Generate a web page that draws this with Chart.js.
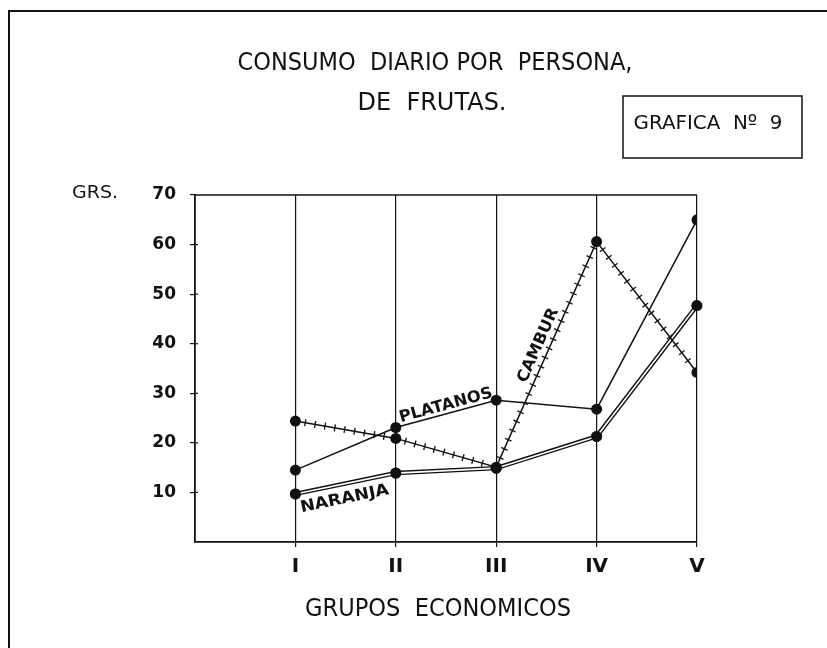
<!DOCTYPE html>
<html>
<head>
<meta charset="utf-8">
<script src="https://cdn.jsdelivr.net/npm/chart.js@4.4.1/dist/chart.umd.min.js"></script>
<style>
  html, body { margin: 0; background: #fff; }
  canvas { display: block; }
</style>
</head>
<body>
<canvas id="chart" width="827" height="648"></canvas>
<script>
// Grupos economicos y consumo diario (grs.) por persona
const grupos = ["I", "II", "III", "IV", "V"];
const platanos = [14.5, 23.1, 28.6, 26.8, 65.0];
const cambur = [24.4, 20.9, 15.1, 60.6, 34.2];
const naranja = [9.7, 13.9, 14.9, 21.3, 47.7];
const yMax = 70;

const INK = "#111";
const FONT = "'DejaVu Sans', sans-serif";

const toPoints = (values) => values.map((v, i) => ({x: i + 1, y: v}));

// draws text centred on (cx, cy), squeezed sideways to the given width
function fitText(ctx, text, cx, cy, font, width, angle) {
  ctx.save();
  ctx.font = font;
  ctx.fillStyle = INK;
  ctx.textAlign = "center";
  ctx.textBaseline = "middle";
  const w = ctx.measureText(text).width;
  ctx.translate(cx, cy);
  if (angle) ctx.rotate(angle);
  ctx.scale(width / w, 1);
  ctx.fillText(text, 0, 0);
  ctx.restore();
}

// label placed along a segment of a series, offset on its upper side
function segmentLabel(ctx, meta, i, t, offset, text, width) {
  const a = meta.data[i], b = meta.data[i + 1];
  const ang = Math.atan2(b.y - a.y, b.x - a.x);
  const nx = Math.sin(ang), ny = -Math.cos(ang);
  const cx = a.x + (b.x - a.x) * t + nx * offset;
  const cy = a.y + (b.y - a.y) * t + ny * offset;
  fitText(ctx, text, cx, cy, "bold 16px " + FONT, width, ang);
}

const lineStyles = {
  id: "lineStyles",
  afterDatasetDraw(chart, args) {
    const ctx = chart.ctx;
    const pts = args.meta.data;
    const label = chart.data.datasets[args.index].label;

    if (label === "CAMBUR") {
      // small cross ticks along the line
      ctx.save();
      ctx.strokeStyle = INK;
      ctx.lineWidth = 1.3;
      for (let i = 0; i < pts.length - 1; i++) {
        const dx = pts[i + 1].x - pts[i].x, dy = pts[i + 1].y - pts[i].y;
        const len = Math.hypot(dx, dy);
        const ux = dx / len, uy = dy / len;
        for (let s = 10; s < len - 6; s += 10) {
          const x = pts[i].x + ux * s, y = pts[i].y + uy * s;
          ctx.beginPath();
          ctx.moveTo(x - uy * 3.5, y + ux * 3.5);
          ctx.lineTo(x + uy * 3.5, y - ux * 3.5);
          ctx.stroke();
        }
      }
      ctx.restore();
    }

    if (label === "NARANJA") {
      // hollow double line, then the dots again on top
      ctx.save();
      ctx.strokeStyle = "#fff";
      ctx.lineWidth = 1.6;
      ctx.lineJoin = "round";
      ctx.beginPath();
      pts.forEach((p, i) => i ? ctx.lineTo(p.x, p.y) : ctx.moveTo(p.x, p.y));
      ctx.stroke();
      ctx.restore();
      pts.forEach((p) => p.draw(ctx, chart.chartArea));
    }
  }
};

const annotations = {
  id: "annotations",
  afterDraw(chart) {
    const ctx = chart.ctx;
    const area = chart.chartArea;
    const ys = chart.scales.y;

    ctx.save();
    ctx.strokeStyle = INK;

    // sheet frame
    ctx.lineWidth = 2;
    ctx.beginPath();
    ctx.moveTo(9, 648);
    ctx.lineTo(9, 11);
    ctx.lineTo(827, 11);
    ctx.stroke();

    // top edge of the plot
    ctx.lineWidth = 1.5;
    ctx.beginPath();
    ctx.moveTo(area.left, area.top);
    ctx.lineTo(area.right, area.top);
    ctx.stroke();

    // little ticks on the value axis reach slightly inside too
    ctx.lineWidth = 1.2;
    ys.ticks.forEach((t) => {
      if (t.value === 0 || t.value === yMax) return;
      const y = ys.getPixelForValue(t.value);
      ctx.beginPath();
      ctx.moveTo(area.left, y);
      ctx.lineTo(area.left + 3, y);
      ctx.stroke();
    });

    // GRAFICA box
    ctx.lineWidth = 1.5;
    ctx.strokeRect(623, 96, 179, 62);
    ctx.restore();

    fitText(ctx, "CONSUMO  DIARIO POR  PERSONA,", 435, 64, "24px " + FONT, 395);
    fitText(ctx, "DE  FRUTAS.", 432, 104, "24px " + FONT, 149);
    fitText(ctx, "GRAFICA  Nº  9", 708, 124, "20px " + FONT, 149);
    fitText(ctx, "GRS.", 95, 193, "18px " + FONT, 46);
    fitText(ctx, "GRUPOS  ECONOMICOS", (area.left + area.right) / 2 - 8, 610, "24px " + FONT, 266);

    // series names written along their lines
    const byLabel = (name) => chart.getDatasetMeta(chart.data.datasets.findIndex((d) => d.label === name));
    segmentLabel(ctx, byLabel("PLATANOS"), 1, 0.52, 8, "PLATANOS", 96);
    segmentLabel(ctx, byLabel("CAMBUR"), 2, 0.52, 11, "CAMBUR", 80);
    segmentLabel(ctx, byLabel("NARANJA"), 0, 0.46, -15, "NARANJA", 90);
  }
};

const common = {
  borderColor: INK,
  backgroundColor: INK,
  pointBackgroundColor: INK,
  pointBorderColor: INK,
  pointRadius: 5.5,
  pointBorderWidth: 0,
  tension: 0,
  fill: false
};

new Chart(document.getElementById("chart").getContext("2d"), {
  type: "line",
  data: {
    datasets: [
      {...common, label: "PLATANOS", data: toPoints(platanos), borderWidth: 1.5},
      {...common, label: "CAMBUR", data: toPoints(cambur), borderWidth: 1.5},
      {...common, label: "NARANJA", data: toPoints(naranja), borderWidth: 4.5}
    ]
  },
  options: {
    responsive: false,
    animation: false,
    layout: {padding: {left: 135, top: 195, right: 130, bottom: 66}},
    plugins: {legend: {display: false}, tooltip: {enabled: false}, title: {display: false}},
    scales: {
      x: {
        type: "linear",
        min: 0,
        max: grupos.length,
        afterFit: (scale) => { scale.height = 40; },
        border: {color: INK, width: 1.8},
        grid: {
          color: (c) => c.tick && c.tick.value === 0 ? "rgba(0,0,0,0)" : INK,
          lineWidth: 1.2,
          tickLength: 5
        },
        ticks: {
          stepSize: 1,
          padding: 8,
          color: INK,
          font: {family: FONT, size: 20, weight: "bold"},
          callback: (v) => grupos[v - 1] || ""
        }
      },
      y: {
        min: 0,
        max: yMax,
        afterFit: (scale) => { scale.width = 60; },
        border: {color: INK, width: 1.8},
        grid: {
          drawOnChartArea: false,
          color: (c) => c.tick && c.tick.value === 0 ? "rgba(0,0,0,0)" : INK,
          lineWidth: 1.2,
          tickLength: 5
        },
        ticks: {
          stepSize: 10,
          padding: 14,
          color: INK,
          font: {family: FONT, size: 17, weight: "bold"},
          callback: (v) => v === 0 ? "" : v
        }
      }
    }
  },
  plugins: [lineStyles, annotations]
});
</script>
</body>
</html>
